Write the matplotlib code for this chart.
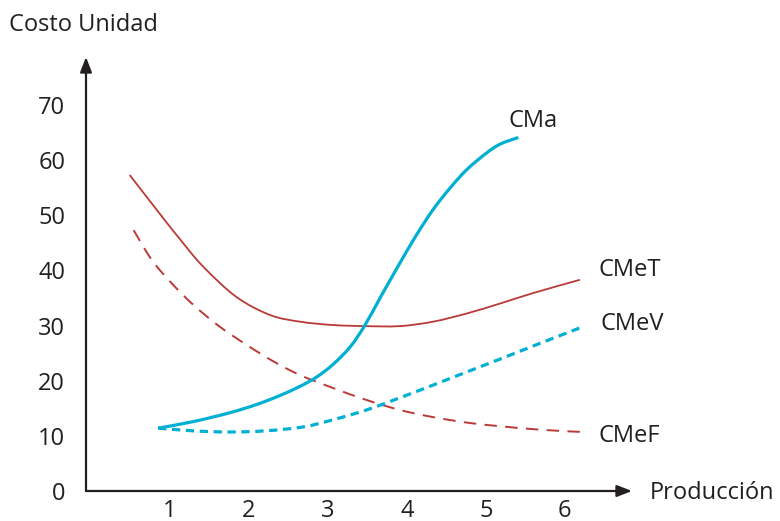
import matplotlib
matplotlib.use("Agg")
import matplotlib.pyplot as plt
from matplotlib.path import Path
from matplotlib.patches import PathPatch

# Data
cmet_x = [0.49, 0.87, 1.13, 1.42, 1.84, 2.27, 2.65, 3.06, 3.47, 3.91, 4.33, 4.76, 5.18, 5.6, 6.19]
cmet_y = [57.3, 50.3, 45.6, 40.7, 35.2, 31.9, 30.7, 30.1, 29.9, 29.9, 30.7, 32.2, 34.0, 35.9, 38.3]

cmef_x = [0.54, 0.77, 1.02, 1.30, 1.63, 1.97, 2.31, 2.65, 3.06, 3.49, 3.91, 4.33, 4.76, 5.14, 5.7, 6.23]
cmef_y = [47.3, 41.9, 37.7, 33.7, 29.8, 26.5, 23.5, 21.0, 18.7, 16.5, 14.7, 13.4, 12.4, 11.8, 11.1, 10.7]

cma_x = [0.85, 1.3, 1.76, 2.1, 2.39, 2.65, 2.85, 3.06, 3.28, 3.47, 3.66, 3.91, 4.12, 4.33, 4.55, 4.76, 5.0, 5.18, 5.41]
cma_y = [11.4, 12.6, 14.2, 15.7, 17.3, 19.0, 20.6, 22.9, 26.1, 30.1, 35.0, 41.3, 46.4, 51.0, 55.0, 58.3, 61.2, 62.9, 64.1]

cmev_x = [0.85, 1.3, 1.76, 2.2, 2.68, 3.06, 3.49, 3.91, 4.33, 4.76, 5.14, 5.6, 6.23]
cmev_y = [11.4, 10.9, 10.7, 10.9, 11.6, 12.9, 14.7, 16.9, 19.2, 21.6, 23.7, 26.3, 29.8]

xticks = [1, 2, 3, 4, 5, 6]
yticks = [0, 10, 20, 30, 40, 50, 60, 70]

RED = "#b93a36"
BLUE = "#00b0d2"
DARK = "#231f20"
FONT = ["Open Sans", "DejaVu Sans"]

fig = plt.figure(figsize=(7.8, 5.21), dpi=100)
ax = fig.add_axes([86 / 780, (521 - 491) / 521, (632 - 86) / 780, (491 - 57) / 521])
xmin, xmax = -0.063, 6.85
ymin, ymax = 0, 78.7
ax.set_xlim(xmin, xmax)
ax.set_ylim(ymin, ymax)
for s in ax.spines.values():
    s.set_visible(False)
ax.tick_params(length=0)
ax.set_xticks(xticks)
ax.set_yticks(yticks)
ax.set_xticklabels([str(t) for t in xticks], fontsize=17, color=DARK, family=FONT)
ax.set_yticklabels([str(t) for t in yticks], fontsize=17, color=DARK, family=FONT)
ax.tick_params(axis="x", pad=6)
ax.tick_params(axis="y", pad=15)

# Axis arrows
arrow = dict(arrowstyle="-|>,head_length=0.9,head_width=0.35", color=DARK, lw=1.6,
             shrinkA=0, shrinkB=0)
ax.annotate("", xy=(xmax, 0), xytext=(xmin, 0), arrowprops=arrow, annotation_clip=False)
ax.annotate("", xy=(xmin, ymax), xytext=(xmin, 0), arrowprops=arrow, annotation_clip=False)


def smooth_curve(xs, ys, **kw):
    """Draw a smooth Catmull-Rom style Bezier through the read points."""
    pts = list(zip(xs, ys))
    verts = [pts[0]]
    codes = [Path.MOVETO]
    n = len(pts)
    for i in range(n - 1):
        p0 = pts[i - 1] if i > 0 else pts[i]
        p1 = pts[i]
        p2 = pts[i + 1]
        p3 = pts[i + 2] if i + 2 < n else pts[i + 1]
        c1 = (p1[0] + (p2[0] - p0[0]) / 6, p1[1] + (p2[1] - p0[1]) / 6)
        c2 = (p2[0] - (p3[0] - p1[0]) / 6, p2[1] - (p3[1] - p1[1]) / 6)
        verts += [c1, c2, p2]
        codes += [Path.CURVE4] * 3
    patch = PathPatch(Path(verts, codes), fill=False, transform=ax.transData,
                      clip_on=False, **kw)
    ax.add_patch(patch)


smooth_curve(cmet_x, cmet_y, edgecolor=RED, lw=1.3, capstyle="butt")
smooth_curve(cmef_x, cmef_y, edgecolor=RED, lw=1.4, linestyle=(0, (6.4, 4.3)), capstyle="butt")
smooth_curve(cma_x, cma_y, edgecolor=BLUE, lw=2.3, capstyle="butt")
smooth_curve(cmev_x, cmev_y, edgecolor=BLUE, lw=2.3, linestyle=(0, (2.6, 1.75)), capstyle="butt")


def lbl(x, y, s, ha="left"):
    fig.text(x / 780, 1 - y / 521, s, fontsize=17, color=DARK, family=FONT,
             ha=ha, va="center")


lbl(9, 25, "Costo Unidad")
lbl(509, 121, "CMa")
lbl(599, 270, "CMeT")
lbl(600, 324, "CMeV")
lbl(598, 436, "CMeF")
lbl(650, 493, "Producción")

fig.savefig("out.png", dpi=100)
